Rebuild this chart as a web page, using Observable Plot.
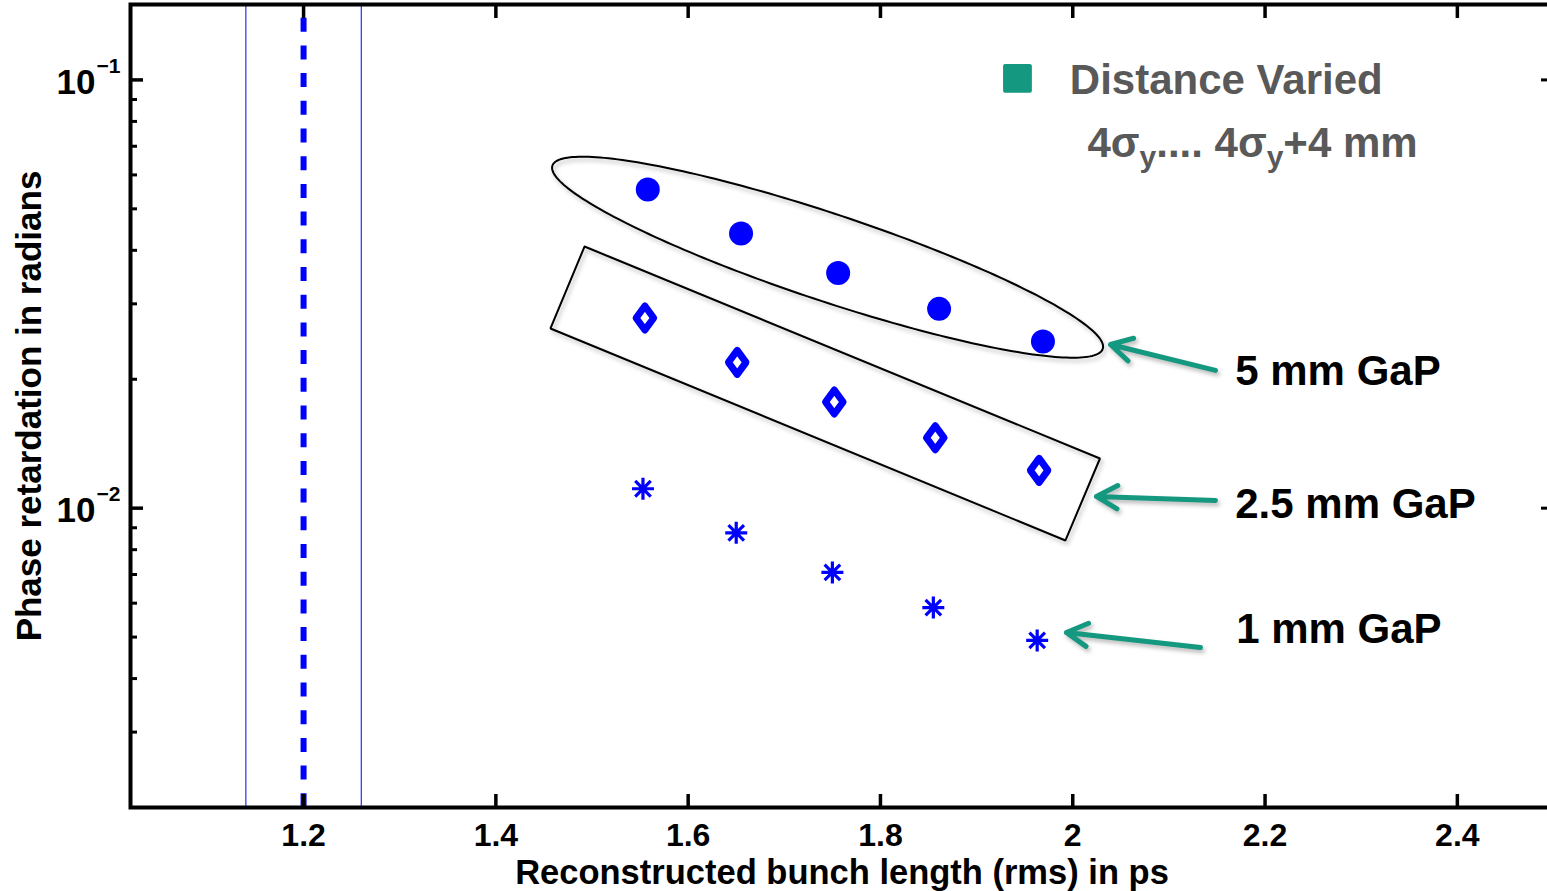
<!DOCTYPE html>
<html>
<head>
<meta charset="utf-8">
<script src="https://cdn.jsdelivr.net/npm/d3@7"></script>
<script src="https://cdn.jsdelivr.net/npm/@observablehq/plot@0.6"></script>
<style>
  html, body { margin: 0; padding: 0; overflow: hidden; background: #fff; }
  #chart svg { display: block; }
</style>
</head>
<body>
<div id="chart"></div>
<script>
// ---------------- data ----------------
// 5 mm gap (filled circles)
const bunch5mm = [1.558, 1.655, 1.756, 1.861, 1.969];
const phase5mm = [0.0555, 0.0438, 0.0354, 0.0292, 0.0245];
// 2.5 mm gap (hollow diamonds)
const bunch25mm = [1.555, 1.651, 1.752, 1.857, 1.965];
const phase25mm = [0.0278, 0.0219, 0.0177, 0.0146, 0.01225];
// 1 mm gap (asterisks)
const bunch1mm = [1.553, 1.650, 1.750, 1.855, 1.963];
const phase1mm = [0.0111, 0.00876, 0.00708, 0.00586, 0.00491];

// reference vertical lines (ps)
const vLinesThin = [1.14, 1.26];
const vLineDashed = [1.2];

// axes
const xDomain = [1.02, 2.5];
const yDomain = [0.002, 0.15];
const xTicks = [1.2, 1.4, 1.6, 1.8, 2.0, 2.2, 2.4];
const xTickLabels = ["1.2", "1.4", "1.6", "1.8", "2", "2.2", "2.4"];
const yMajorTicks = [0.1, 0.01];
const yTickBase = ["10", "10"];
const yTickExp = ["\u22121", "\u22122"];
const yMinorTicks = [0.002, 0.003, 0.004, 0.005, 0.006, 0.007, 0.008, 0.009,
                     0.02, 0.03, 0.04, 0.05, 0.06, 0.07, 0.08, 0.09];
const xAxisTitle = "Reconstructed bunch length (rms) in ps";
const yAxisTitle = "Phase retardation in radians";

// annotations (data coordinates)
const legendLabels = ["Distance Varied", "4σy.... 4σy+4 mm"];
const legendLabelX = [1.997, 2.0153];
const legendLabelY = [0.0995, 0.0711];
const legendSwatchX = [1.9425];
const legendSwatchY = [0.1008];

const gapLabels = ["5 mm GaP", "2.5 mm GaP", "1 mm GaP"];
const gapLabelX = [2.169, 2.169, 2.170];
const gapLabelY = [0.02079, 0.01022, 0.00522];

const arrowTailX = [2.1484, 2.1484, 2.1328];
const arrowTailY = [0.02097, 0.01042, 0.004728];
const arrowHeadX = [2.0392, 2.0246, 1.9934];
const arrowHeadY = [0.02411, 0.01065, 0.005126];

// ellipse around the 5 mm series: centre and semi-axes in (x, log10 y)
const ellipseCenter = [1.745, -1.4140];
const ellipseMajor = [0.2862, -0.2139];
const ellipseMinor = [-0.0142, -0.0965];

// rotated box around the 2.5 mm series (corners)
const boxX = [1.4922, 2.0283, 1.9924, 1.4568, 1.4922];
const boxY = [0.04083, 0.01306, 0.008406, 0.02628, 0.04083];

// ---------------- build tables ----------------
const series5 = bunch5mm.map((x, i) => ({x, y: phase5mm[i]}));
const series25 = bunch25mm.map((x, i) => ({x, y: phase25mm[i]}));
const series1 = bunch1mm.map((x, i) => ({x, y: phase1mm[i]}));
const arrows = arrowTailX.map((x, i) => ({x1: x, y1: arrowTailY[i], x2: arrowHeadX[i], y2: arrowHeadY[i]}));
const gapTable = gapLabels.map((t, i) => ({t, x: gapLabelX[i], y: gapLabelY[i]}));
const ellipsePts = d3.range(0, 241).map(i => {
  const a = (i / 240) * 2 * Math.PI, c = Math.cos(a), s = Math.sin(a);
  return {
    x: ellipseCenter[0] + ellipseMajor[0] * c + ellipseMinor[0] * s,
    y: Math.pow(10, ellipseCenter[1] + ellipseMajor[1] * c + ellipseMinor[1] * s)
  };
});
const boxPts = boxX.map((x, i) => ({x, y: boxY[i]}));

// custom symbols
const asterisk8 = {
  draw(ctx, size) {
    const r = Math.sqrt(size / Math.PI), d = r * Math.SQRT1_2;
    ctx.moveTo(0, -r); ctx.lineTo(0, r);
    ctx.moveTo(-r, 0); ctx.lineTo(r, 0);
    ctx.moveTo(-d, -d); ctx.lineTo(d, d);
    ctx.moveTo(-d, d); ctx.lineTo(d, -d);
  }
};
const tallDiamond = {
  draw(ctx, size) {
    const r = Math.sqrt(size / Math.PI);
    ctx.moveTo(0, -1.5 * r); ctx.lineTo(1.1 * r, 0);
    ctx.lineTo(0, 1.5 * r); ctx.lineTo(-1.1 * r, 0); ctx.closePath();
  }
};

const FONT = "'Liberation Sans', Arial, Helvetica, sans-serif";
const BLUE = "#0000ff";
const TEAL = "#14987f";

const plot = Plot.plot({
  width: 1553,
  height: 891,
  marginLeft: 130,
  marginRight: 0,
  marginTop: 4,
  marginBottom: 84,
  x: {type: "linear", domain: xDomain},
  y: {type: "log", domain: yDomain},
  style: {fontFamily: FONT, background: "white", maxWidth: "none", overflow: "visible", color: "black"},
  marks: [
    Plot.ruleX(vLinesThin, {x: d => d, stroke: BLUE, strokeWidth: 1}),
    Plot.ruleX(vLineDashed, {x: d => d, stroke: BLUE, strokeWidth: 6, strokeDasharray: "14,13.7", strokeDashoffset: 14}),

    Plot.line(ellipsePts, {x: "x", y: "y", stroke: "black", strokeWidth: 2}),
    Plot.line(boxPts, {x: "x", y: "y", stroke: "black", strokeWidth: 2, strokeLinejoin: "miter"}),

    Plot.dot(series5, {x: "x", y: "y", r: 12, fill: BLUE, stroke: "none"}),
    Plot.dot(series25, {x: "x", y: "y", r: 8, symbol: tallDiamond, fill: "none", stroke: BLUE, strokeWidth: 7, strokeLinejoin: "round"}),
    Plot.dot(series1, {x: "x", y: "y", r: 11, symbol: asterisk8, fill: "none", stroke: BLUE, strokeWidth: 3.2}),

    Plot.arrow(arrows, {x1: "x1", y1: "y1", x2: "x2", y2: "y2", stroke: TEAL, strokeWidth: 5, headLength: 7.2, headAngle: 58}),

    // legend
    Plot.dot(legendSwatchX, {x: d => d, y: (d, i) => legendSwatchY[i], symbol: "square", r: 14, fill: TEAL, stroke: TEAL, strokeWidth: 4, strokeLinejoin: "round"}),
    Plot.text(legendLabels, {x: (d, i) => legendLabelX[i], y: (d, i) => legendLabelY[i], text: d => d, textAnchor: "start", fontSize: 42, fontWeight: "bold", fill: "#595959"}),

    // gap labels
    Plot.text(gapTable, {x: "x", y: "y", text: "t", textAnchor: "start", fontSize: 42, fontWeight: "bold", fill: "black"}),

    // axis ticks (inward)
    Plot.axisY(yMajorTicks, {anchor: "left", tickSize: -13, strokeWidth: 3.5, fill: "none", label: null}),
    Plot.axisY(yMinorTicks, {anchor: "left", tickSize: -7, strokeWidth: 3, fill: "none", label: null}),
    Plot.axisY(yMajorTicks, {anchor: "right", tickSize: -13, strokeWidth: 3, fill: "none", label: null}),
    Plot.axisY(yMinorTicks, {anchor: "right", tickSize: -7, strokeWidth: 2, fill: "none", label: null}),
    Plot.axisX(xTicks, {anchor: "bottom", tickSize: -13, strokeWidth: 3.5, fill: "none", label: null}),
    Plot.axisX(xTicks, {anchor: "top", tickSize: -13, strokeWidth: 3.5, fill: "none", label: null}),

    // tick labels
    Plot.text(xTicks, {x: d => d, text: (d, i) => xTickLabels[i], frameAnchor: "bottom", lineAnchor: "top", dy: 16, fontSize: 32, fontWeight: "bold", fill: "black"}),
    Plot.text(yMajorTicks, {y: d => d, text: (d, i) => yTickBase[i], frameAnchor: "left", textAnchor: "end", lineAnchor: "middle", dx: -35, dy: 3, fontSize: 35, fontWeight: "bold", fill: "black"}),
    Plot.text(yMajorTicks, {y: d => d, text: (d, i) => yTickExp[i], frameAnchor: "left", textAnchor: "start", lineAnchor: "middle", dx: -34, dy: -14, fontSize: 21, fontWeight: "bold", fill: "black"}),

    // axis titles
    Plot.text([xAxisTitle], {frameAnchor: "bottom", textAnchor: "middle", lineAnchor: "middle", dy: 65, fontSize: 34.5, fontWeight: "bold", fill: "black"}),
    Plot.text([yAxisTitle], {frameAnchor: "left", textAnchor: "middle", lineAnchor: "middle", rotate: -90, dx: -101, fontSize: 35, fontWeight: "bold", fill: "black"}),

    Plot.frame({stroke: "black", strokeWidth: 4})
  ]
});

// subscripts in the legend's second line
const NS = "http://www.w3.org/2000/svg";
plot.querySelectorAll("text").forEach(t => {
  if (t.textContent === legendLabels[1]) {
    t.textContent = "";
    const parts = [["4σ", 0, null], ["y", 10, 30], [".... 4σ", -10, null], ["y", 10, 30], ["+4 mm", -10, null]];
    for (const [s, dy, fs] of parts) {
      const ts = document.createElementNS(NS, "tspan");
      ts.textContent = s;
      if (dy) ts.setAttribute("dy", dy);
      if (fs) ts.setAttribute("font-size", fs);
      t.appendChild(ts);
    }
  }
});
// soft shadows on the hand-drawn annotations
plot.querySelectorAll('g[aria-label="line"], g[aria-label="arrow"]').forEach(g => {
  g.style.filter = "drop-shadow(2px 3px 2px rgba(0,0,0,0.28))";
});

document.getElementById("chart").appendChild(plot);
</script>
</body>
</html>
